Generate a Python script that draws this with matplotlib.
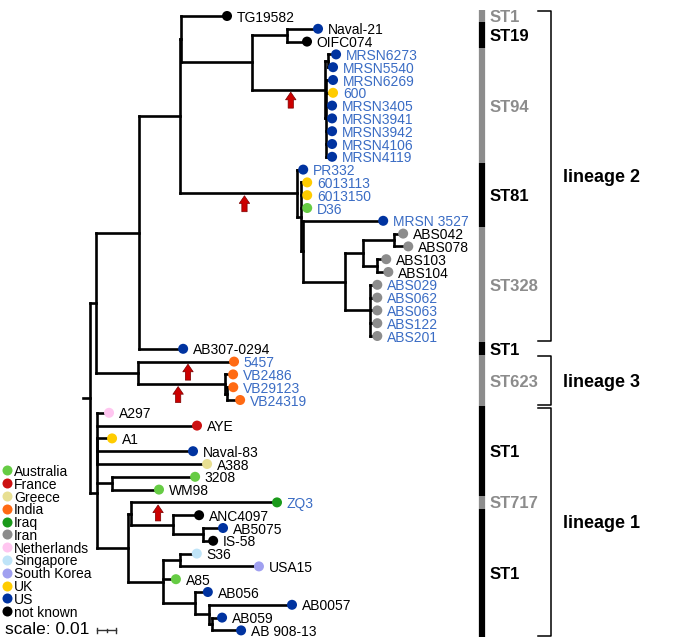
import matplotlib.pyplot as plt
import matplotlib.transforms as mtransforms

plt.rcParams['font.family'] = ['Liberation Sans', 'DejaVu Sans']

# Tree as (child, parent, branch length); parents come before their children,
# children are in top-to-bottom order
root = 'R'
root_len = 0.0037
branches = [
    ('A', 'R', 0.0032), ('B', 'A', 0.0226), ('C', 'B', 0.0216), ('Ci', 'C', 0.0005),
    ('TG19582', 'Ci', 0.0242), ('E', 'Ci', 0.0374),
    ('NO', 'E', 0.0184), ('Naval-21', 'NO', 0.0163), ('OIFC074', 'NO', 0.0105),
    ('M', 'E', 0.0384), ('Ma', 'M', 0.0016),
    ('MRSN6273', 'Ma', 0.0042), ('MRSN5540', 'Ma', 0.0026),
    ('Mb', 'M', 0.0005),
    ('MRSN6269', 'Mb', 0.0037), ('600', 'Mb', 0.0037), ('MRSN3405', 'Mb', 0.0032),
    ('MRSN3941', 'Mb', 0.0032), ('MRSN3942', 'Mb', 0.0032), ('MRSN4106', 'Mb', 0.0032),
    ('MRSN4119', 'Mb', 0.0032),
    ('F', 'C', 0.0616), ('PR332', 'F', 0.0032), ('G', 'F', 0.0021),
    ('6013113', 'G', 0.0032), ('6013150', 'G', 0.0032), ('D36', 'G', 0.0032),
    ('H', 'G', 0.0011), ('MRSN 3527', 'H', 0.0421), ('ABS', 'H', 0.0221),
    ('I', 'ABS', 0.0095), ('K', 'I', 0.0163), ('ABS042', 'K', 0.0047), ('ABS078', 'K', 0.0074),
    ('L', 'I', 0.0074), ('ABS103', 'L', 0.0047), ('ABS104', 'L', 0.0058),
    ('J', 'ABS', 0.0132), ('ABS029', 'J', 0.0037), ('ABS062', 'J', 0.0037),
    ('ABS063', 'J', 0.0037), ('ABS122', 'J', 0.0037), ('ABS201', 'J', 0.0037),
    ('AB307-0294', 'B', 0.0232),
    ('L3', 'A', 0.0221), ('5457', 'L3', 0.0505), ('VB', 'L3', 0.0458),
    ('VB2486', 'VB', 0.0042), ('VBi', 'VB', 0.0011),
    ('VB29123', 'VBi', 0.0032), ('VB24319', 'VBi', 0.0068),
    ('L1', 'R', 0.0037), ('L1i', 'L1', 0.0),
    ('A297', 'L1i', 0.0063), ('AYE', 'L1i', 0.0526), ('A1', 'L1i', 0.0079),
    ('Naval-83', 'L1i', 0.0505), ('A388', 'L1i', 0.0579),
    ('X', 'L1', 0.0079), ('3208', 'X', 0.0437), ('WM98', 'X', 0.0247),
    ('N', 'L1', 0.0163), ('O', 'N', 0.0016), ('ZQ3', 'O', 0.0768),
    ('Q', 'O', 0.0221), ('ANC4097', 'Q', 0.0137), ('S', 'Q', 0.0158),
    ('AB5075', 'S', 0.0105), ('IS-58', 'S', 0.0053),
    ('P', 'N', 0.0184), ('T', 'P', 0.0089), ('S36', 'T', 0.0089), ('USA15', 'T', 0.0416),
    ('A85', 'P', 0.0068), ('U', 'P', 0.0168), ('AB056', 'U', 0.0068),
    ('V', 'U', 0.0074), ('AB0057', 'V', 0.0437), ('W', 'V', 0.0016),
    ('AB059', 'W', 0.0053), ('AB 908-13', 'W', 0.0153),
]

tip_country = {
    'TG19582': 'not known', 'Naval-21': 'US', 'OIFC074': 'not known',
    'MRSN6273': 'US', 'MRSN5540': 'US', 'MRSN6269': 'US', '600': 'UK',
    'MRSN3405': 'US', 'MRSN3941': 'US', 'MRSN3942': 'US', 'MRSN4106': 'US', 'MRSN4119': 'US',
    'PR332': 'US', '6013113': 'UK', '6013150': 'UK', 'D36': 'Australia', 'MRSN 3527': 'US',
    'ABS042': 'Iran', 'ABS078': 'Iran', 'ABS103': 'Iran', 'ABS104': 'Iran',
    'ABS029': 'Iran', 'ABS062': 'Iran', 'ABS063': 'Iran', 'ABS122': 'Iran', 'ABS201': 'Iran',
    'AB307-0294': 'US', '5457': 'India', 'VB2486': 'India', 'VB29123': 'India', 'VB24319': 'India',
    'A297': 'Netherlands', 'AYE': 'France', 'A1': 'UK', 'Naval-83': 'US', 'A388': 'Greece',
    '3208': 'Australia', 'WM98': 'Australia', 'ZQ3': 'Iraq', 'ANC4097': 'not known',
    'AB5075': 'US', 'IS-58': 'not known', 'S36': 'Singapore', 'USA15': 'South Korea',
    'A85': 'Australia', 'AB056': 'US', 'AB0057': 'US', 'AB059': 'US', 'AB 908-13': 'US',
}

blue_labels = ['MRSN6273', 'MRSN5540', 'MRSN6269', '600', 'MRSN3405', 'MRSN3941', 'MRSN3942',
               'MRSN4106', 'MRSN4119', 'PR332', '6013113', '6013150', 'D36', 'MRSN 3527',
               'ABS029', 'ABS062', 'ABS063', 'ABS122', 'ABS201',
               '5457', 'VB2486', 'VB29123', 'VB24319', 'ZQ3']

countries = ['Australia', 'France', 'Greece', 'India', 'Iraq', 'Iran', 'Netherlands',
             'Singapore', 'South Korea', 'UK', 'US', 'not known']
country_colors = ['#66cc44', '#cc1111', '#e8df92', '#ff6a13', '#1a9a1a', '#8c8c8c', '#ffc6f0',
                  '#bfe4f8', '#a0a0f0', '#ffcc00', '#0033a0', '#000000']

# sequence types (tip rows) and lineages
st_names = ['ST1', 'ST19', 'ST94', 'ST81', 'ST328', 'ST1', 'ST623', 'ST1', 'ST717', 'ST1']
st_first = [0, 1, 3, 12, 17, 26, 27, 31, 38, 39]
st_last = [0, 2, 11, 16, 25, 26, 30, 37, 38, 48]
lineages = ['lineage 2', 'lineage 3', 'lineage 1']
lin_first = [0, 27, 31]
lin_last = [25, 30, 48]

# red arrows: branch (by child node) and position along it
arrow_branch = ['M', 'F', '5457', 'VB', 'ZQ3']
arrow_frac = [0.53, 0.55, 0.52, 0.46, 0.185]

# ---- layout ----
children, parent = {}, {}
xpos = {root: root_len}
for c, p, l in branches:
    children.setdefault(p, []).append(c)
    parent[c] = p
    xpos[c] = xpos[p] + l

ypos = {}
tips = []


def place(n):
    if n not in children:
        ypos[n] = len(tips)
        tips.append(n)
    else:
        for c in children[n]:
            place(c)
        ypos[n] = (ypos[children[n][0]] + ypos[children[n][-1]]) / 2


place(root)

# ---- figure ----
W, H = 689, 642
fig = plt.figure(figsize=(W / 100, H / 100), dpi=100)
ax = fig.add_axes([0, 0, 1, 1])
px_per_unit = 1900  # 0.01 substitutions = 19 px
ax.set_xlim(-83 / px_per_unit, (W - 83) / px_per_unit)
ax.set_ylim((H - 16) / 12.8, -16 / 12.8)
ax.axis('off')
trans = mtransforms.blended_transform_factory(ax.transAxes, ax.transData)

lw = 1.9
kw = dict(color='black', lw=lw, solid_capstyle='projecting', zorder=2)
ax.plot([0, root_len], [ypos[root]] * 2, **kw)
for p, kids in children.items():
    ax.plot([xpos[p]] * 2, [ypos[kids[0]], ypos[kids[-1]]], **kw)
    for c in kids:
        ax.plot([xpos[p], xpos[c]], [ypos[c]] * 2, **kw)

cmap = dict(zip(countries, country_colors))
ax.scatter([xpos[t] for t in tips], [ypos[t] for t in tips],
           c=[cmap[tip_country[t]] for t in tips], s=52, linewidths=0, zorder=3)
for t in tips:
    ax.annotate(t, (xpos[t], ypos[t]), xytext=(7, 0), textcoords='offset points',
                va='center_baseline', ha='left', fontsize=10,
                color='#3a6cc4' if t in blue_labels else 'black')

# arrows
for b, f in zip(arrow_branch, arrow_frac):
    p = parent[b]
    x = xpos[p] + f * (xpos[b] - xpos[p])
    ax.annotate('', xy=(x, ypos[b] + 0.2), xytext=(0, -11.5), textcoords='offset points',
                arrowprops=dict(arrowstyle='simple,head_length=0.55,head_width=0.75,tail_width=0.38',
                                fc='#cc0000', ec='#7a0000', lw=0.5, shrinkA=0, shrinkB=0,
                                mutation_scale=10), zorder=4)

# sequence type bar
for i, (name, a, b) in enumerate(zip(st_names, st_first, st_last)):
    col = '#8c8c8c' if i % 2 == 0 else 'black'
    ax.plot([482 / W] * 2, [a - 0.5, b + 0.5], transform=trans, color=col, lw=4.5,
            solid_capstyle='butt')
    ax.text(490 / W, (a + b) / 2, name, transform=trans, va='center_baseline', ha='left',
            fontsize=12, fontweight='bold', color=col)

# lineage brackets
for name, a, b in zip(lineages, lin_first, lin_last):
    ya, yb = a - 0.4, b + 0.4
    ax.plot([538 / W, 551 / W, 551 / W, 538 / W], [ya, ya, yb, yb], transform=trans,
            color='black', lw=1.1)
    ax.text(563 / W, (ya + yb) / 2, name, transform=trans, va='center_baseline', ha='left',
            fontsize=13, fontweight='bold')

# legend
for i, (name, col) in enumerate(zip(countries, country_colors)):
    ax.scatter([7 / W], [35.5 + i], transform=trans, s=52, color=col, linewidths=0)
    ax.text(14 / W, 35.5 + i, name, transform=trans, va='center_baseline', ha='left',
            fontsize=10)

# scale bar
sx = 14 / px_per_unit
sy = 48.0
ax.plot([sx, sx + 0.01], [sy, sy], color='#333333', lw=1)
for xx, h in [(sx, 0.22), (sx + 0.005, 0.1), (sx + 0.01, 0.22)]:
    ax.plot([xx, xx], [sy - h, sy + h], color='#333333', lw=1)
ax.text(5 / W, 47.8, 'scale: 0.01', transform=trans, va='center_baseline', ha='left',
        fontsize=12.5)

fig.savefig('out.png', dpi=100)
